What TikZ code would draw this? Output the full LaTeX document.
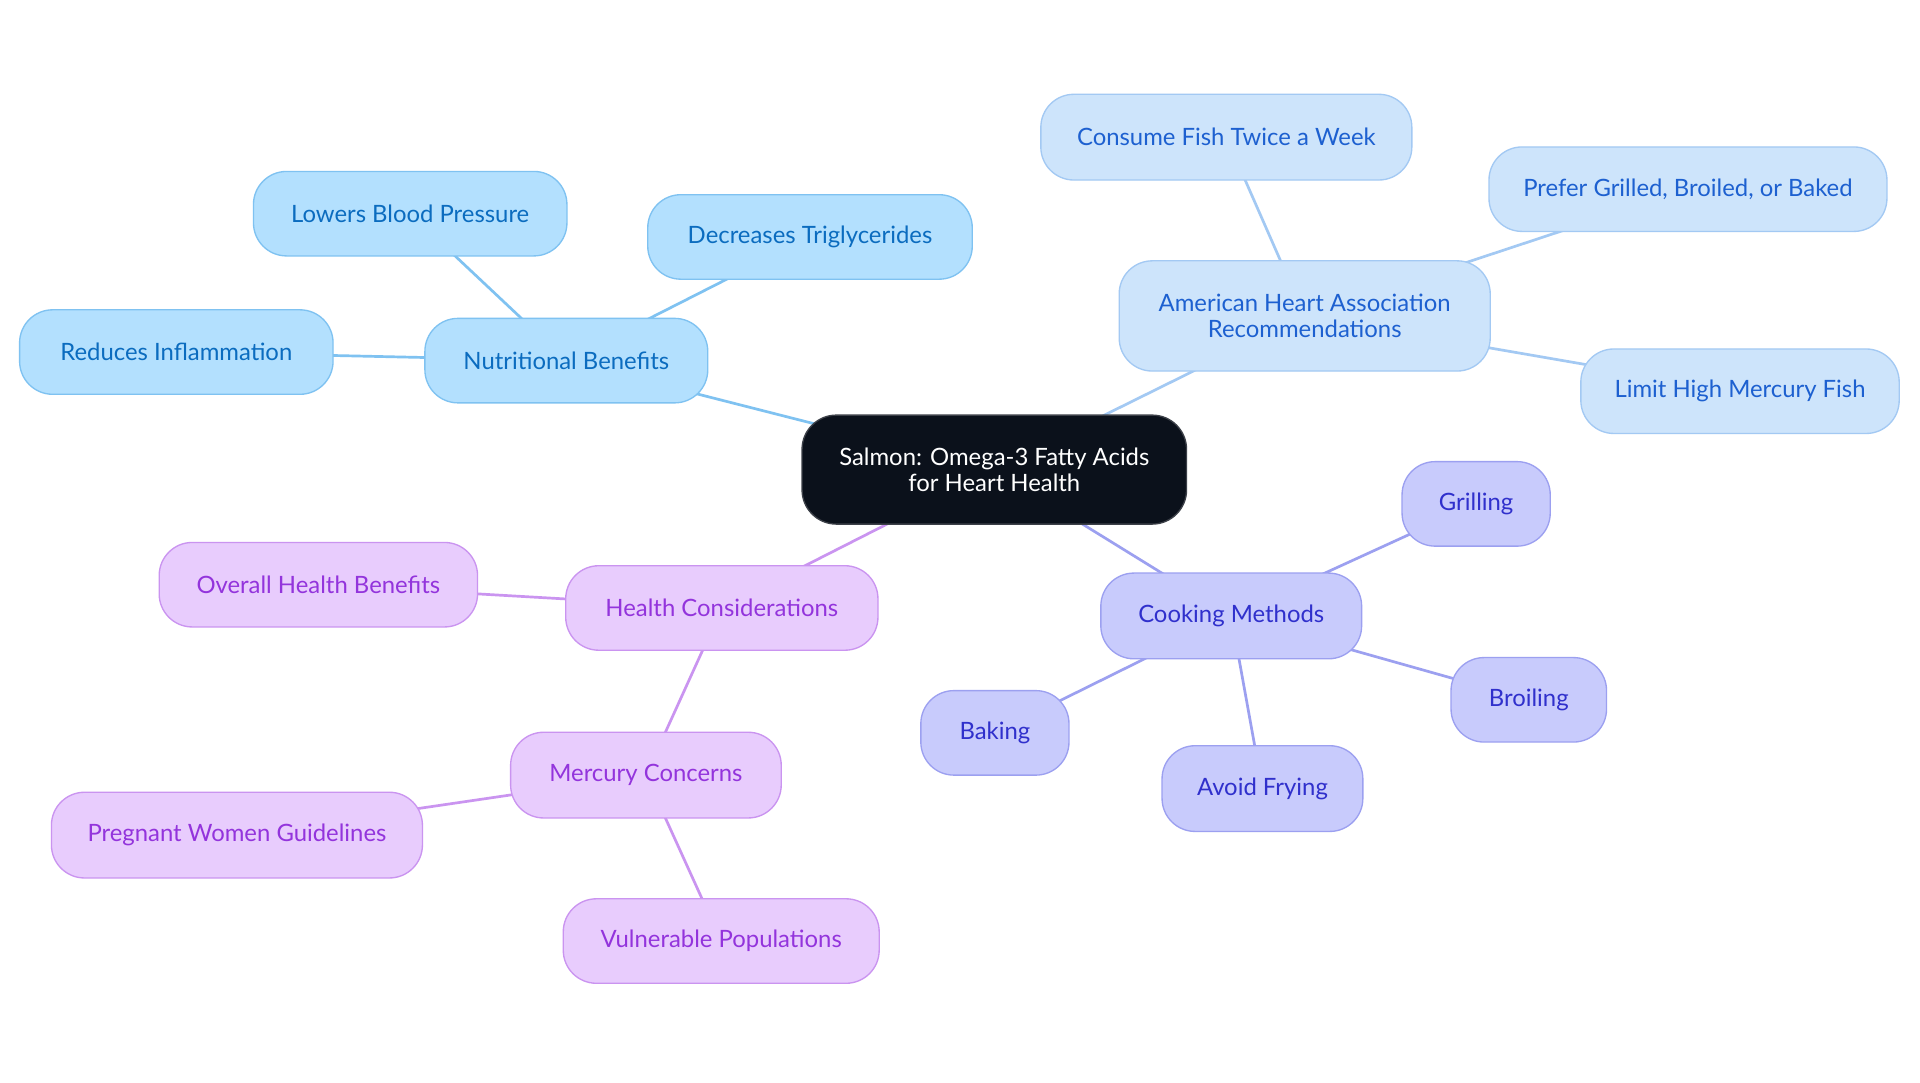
\documentclass[tikz,border=0pt]{standalone}
\usepackage{fontspec}
\setmainfont{Lato}
\usetikzlibrary{backgrounds}
\definecolor{nutfill}{HTML}{B3E0FE}
\definecolor{nutdraw}{HTML}{7FC2F1}
\definecolor{nuttext}{HTML}{0B6CBF}
\definecolor{ahafill}{HTML}{CDE4FB}
\definecolor{ahadraw}{HTML}{A3C9F3}
\definecolor{ahatext}{HTML}{1D60D0}
\definecolor{cookfill}{HTML}{C8CBFC}
\definecolor{cookdraw}{HTML}{9CA0F0}
\definecolor{cooktext}{HTML}{3030CC}
\definecolor{hcfill}{HTML}{E8CCFD}
\definecolor{hcdraw}{HTML}{CA94F0}
\definecolor{hctext}{HTML}{9334DC}
\definecolor{cfill}{HTML}{0B111B}
\definecolor{cdraw}{HTML}{3C4048}
\begin{document}
\begin{tikzpicture}[x=1pt,y=-1pt,
  box/.style={rounded corners=27pt, line width=1.1pt, align=center, inner sep=0pt,
    font=\fontsize{19.5}{21.5}\selectfont, minimum height=69pt},
  nutbox/.style={box, fill=nutfill, draw=nutdraw, text=nuttext},
  ahabox/.style={box, fill=ahafill, draw=ahadraw, text=ahatext},
  cookbox/.style={box, fill=cookfill, draw=cookdraw, text=cooktext},
  hcbox/.style={box, fill=hcfill, draw=hcdraw, text=hctext},
  centerbox/.style={box, rounded corners=28pt, fill=cfill, draw=cdraw, text=white},
  link/.style={line width=2.2pt},
  nutlink/.style={link, draw=nutdraw},
  ahalink/.style={link, draw=ahadraw},
  cooklink/.style={link, draw=cookdraw},
  hclink/.style={link, draw=hcdraw}
]
\useasboundingbox (0,0) rectangle (1568,884.4);
% center
\node[centerbox, minimum width=314pt, minimum height=89pt] (c) at (812,383.5) {Salmon: Omega-3 Fatty Acids\\for Heart Health};
% nutritional
\node[nutbox, minimum width=231pt] (nut) at (462.5,294.5) {Nutritional Benefits};
\node[nutbox, minimum width=256pt] (lbp) at (335,174.5) {Lowers Blood Pressure};
\node[nutbox, minimum width=265pt] (dtg) at (661.5,193.5) {Decreases Triglycerides};
\node[nutbox, minimum width=256pt] (rin) at (144,287.5) {Reduces Inflammation};
% AHA
\node[ahabox, minimum width=303pt, minimum height=90pt] (aha) at (1065.5,258) {American Heart Association\\Recommendations};
\node[ahabox, minimum width=303pt, minimum height=70pt] (cft) at (1001.5,112) {Consume Fish Twice a Week};
\node[ahabox, minimum width=325pt] (pgb) at (1378.5,154.5) {Prefer Grilled, Broiled, or Baked};
\node[ahabox, minimum width=260pt] (lhm) at (1421,319.5) {Limit High Mercury Fish};
% cooking
\node[cookbox, minimum width=213pt, minimum height=70pt] (cook) at (1005.5,503) {Cooking Methods};
\node[cookbox, minimum width=121pt] (gril) at (1205.5,411.5) {Grilling};
\node[cookbox, minimum width=127pt] (broi) at (1248.5,571.5) {Broiling};
\node[cookbox, minimum width=164pt, minimum height=70pt] (avoid) at (1031,644) {Avoid Frying};
\node[cookbox, minimum width=121pt] (bak) at (812.5,598.5) {Baking};
% health
\node[hcbox, minimum width=255pt] (hc) at (589.5,496.5) {Health Considerations};
\node[hcbox, minimum width=260pt] (ohb) at (260,477.5) {Overall Health Benefits};
\node[hcbox, minimum width=221pt, minimum height=70pt] (mc) at (527.5,633) {Mercury Concerns};
\node[hcbox, minimum width=303pt, minimum height=70pt] (pwg) at (193.5,682) {Pregnant Women Guidelines};
\node[hcbox, minimum width=258pt] (vp) at (589,768.5) {Vulnerable Populations};
\begin{scope}[on background layer]
\fill[white] (0,0) rectangle (1568,884.4);
\draw[nutlink] (c.center) -- (nut.center);
\draw[nutlink] (nut.center) -- (lbp.center);
\draw[nutlink] (nut.center) -- (dtg.center);
\draw[nutlink] (nut.center) -- (rin.center);
\draw[ahalink] (c.center) -- (aha.center);
\draw[ahalink] (aha.center) -- (cft.center);
\draw[ahalink] (aha.center) -- (pgb.center);
\draw[ahalink] (aha.center) -- (lhm.center);
\draw[cooklink] (c.center) -- (cook.center);
\draw[cooklink] (cook.center) -- (gril.center);
\draw[cooklink] (cook.center) -- (broi.center);
\draw[cooklink] (cook.center) -- (avoid.center);
\draw[cooklink] (cook.center) -- (bak.center);
\draw[hclink] (c.center) -- (hc.center);
\draw[hclink] (hc.center) -- (ohb.center);
\draw[hclink] (hc.center) -- (mc.center);
\draw[hclink] (mc.center) -- (pwg.center);
\draw[hclink] (mc.center) -- (vp.center);
\end{scope}
\end{tikzpicture}
\end{document}
